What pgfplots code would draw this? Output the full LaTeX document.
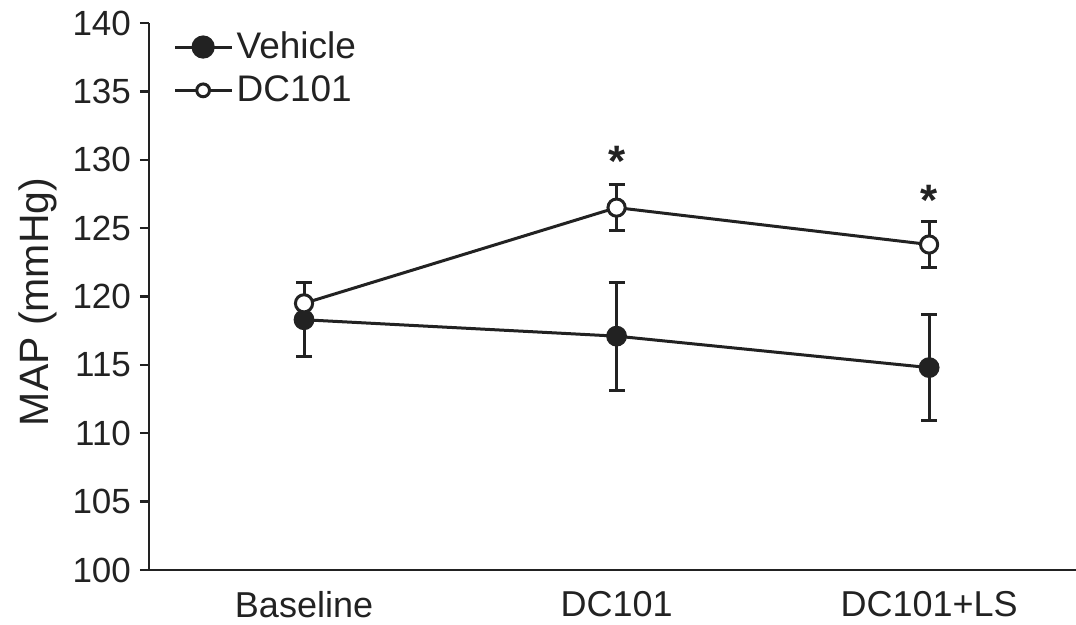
\documentclass[border=0pt]{standalone}
\usepackage{fontspec}
\setmainfont{Liberation Sans}
\usepackage{pgfplots}
\pgfplotsset{compat=1.18}
\definecolor{ink}{HTML}{222222}
\pgfplotstableread{
x y e
0 118.3 2.7
1 117.1 3.95
2 114.8 3.85
}\vehicle
\pgfplotstableread{
x y e
0 119.5 1.55
1 126.5 1.7
2 123.8 1.7
}\dcone
\begin{document}
\begin{tikzpicture}
\begin{axis}[
 scale only axis, width=463.5pt, height=273.5pt,
 xmin=-0.496, xmax=2.47, ymin=100, ymax=140,
 axis x line*=bottom, axis y line*=left,
 axis line style={ink, line width=1.2pt, -},
 xtick={0,1,2}, xticklabels={Baseline,DC101,DC101+LS},
 major x tick style={draw=none},
 ytick={100,105,...,140},
 tick align=outside, major tick length=4.5pt,
 tick style={ink, line width=1.2pt},
 yticklabel style={font=\fontsize{17.5}{17.5}\selectfont, text=ink, xshift=-1pt},
 xticklabel style={font=\fontsize{18}{18}\selectfont, text=ink, yshift=-2.5pt},
 /pgf/number format/assume math mode=true,
 ylabel={MAP (mmHg)},
 ylabel style={font=\fontsize{20.5}{20.5}\selectfont, text=ink, at={(axis description cs:-0.12,0.49)}, anchor=center},
 legend style={draw=none, fill=none, at={(axis description cs:0.024,0.995)}, anchor=north west,
   font=\fontsize{18.5}{18.5}\selectfont, text=ink, row sep=3pt, inner sep=1pt,
   nodes={inner xsep=1.5pt}},
 legend cell align=left,
 clip=false,
]
\addplot[ink, line width=1.5pt, mark=*, mark size=4.7pt, mark options={fill=ink, line width=1pt},
  legend image code/.code={\draw[mark repeat=2, mark phase=2, mark size=5.3pt] plot coordinates {(0pt,0pt) (14pt,0pt) (28.5pt,0pt)};},
  error bars/.cd, y dir=both, y explicit,
  error mark options={rotate=90, mark size=4pt, line width=1.5pt, ink},
  error bar style={line width=1.5pt, ink}]
  table[x=x, y=y, y error=e] {\vehicle};
\addlegendentry{Vehicle}
\addplot[ink, line width=1.5pt, mark=*, mark size=4.3pt, mark options={fill=white, line width=1.5pt},
  legend image code/.code={\draw[mark repeat=2, mark phase=2, mark size=3.2pt] plot coordinates {(0pt,0pt) (14pt,0pt) (28.5pt,0pt)};},
  error bars/.cd, y dir=both, y explicit,
  error mark options={rotate=90, mark size=4pt, line width=1.5pt, ink},
  error bar style={line width=1.5pt, ink}]
  table[x=x, y=y, y error=e] {\dcone};
\addlegendentry{DC101}
\node[font=\bfseries\fontsize{22}{22}\selectfont, text=ink] at (axis cs:1,129.85) {*};
\node[font=\bfseries\fontsize{22}{22}\selectfont, text=ink] at (axis cs:2,127.0) {*};
\end{axis}
\pgfresetboundingbox
\path[use as bounding box] ([xshift=-74.5pt,yshift=-27.5pt]current axis.south west) rectangle ([yshift=11.5pt]current axis.north east);
\end{tikzpicture}
\end{document}
